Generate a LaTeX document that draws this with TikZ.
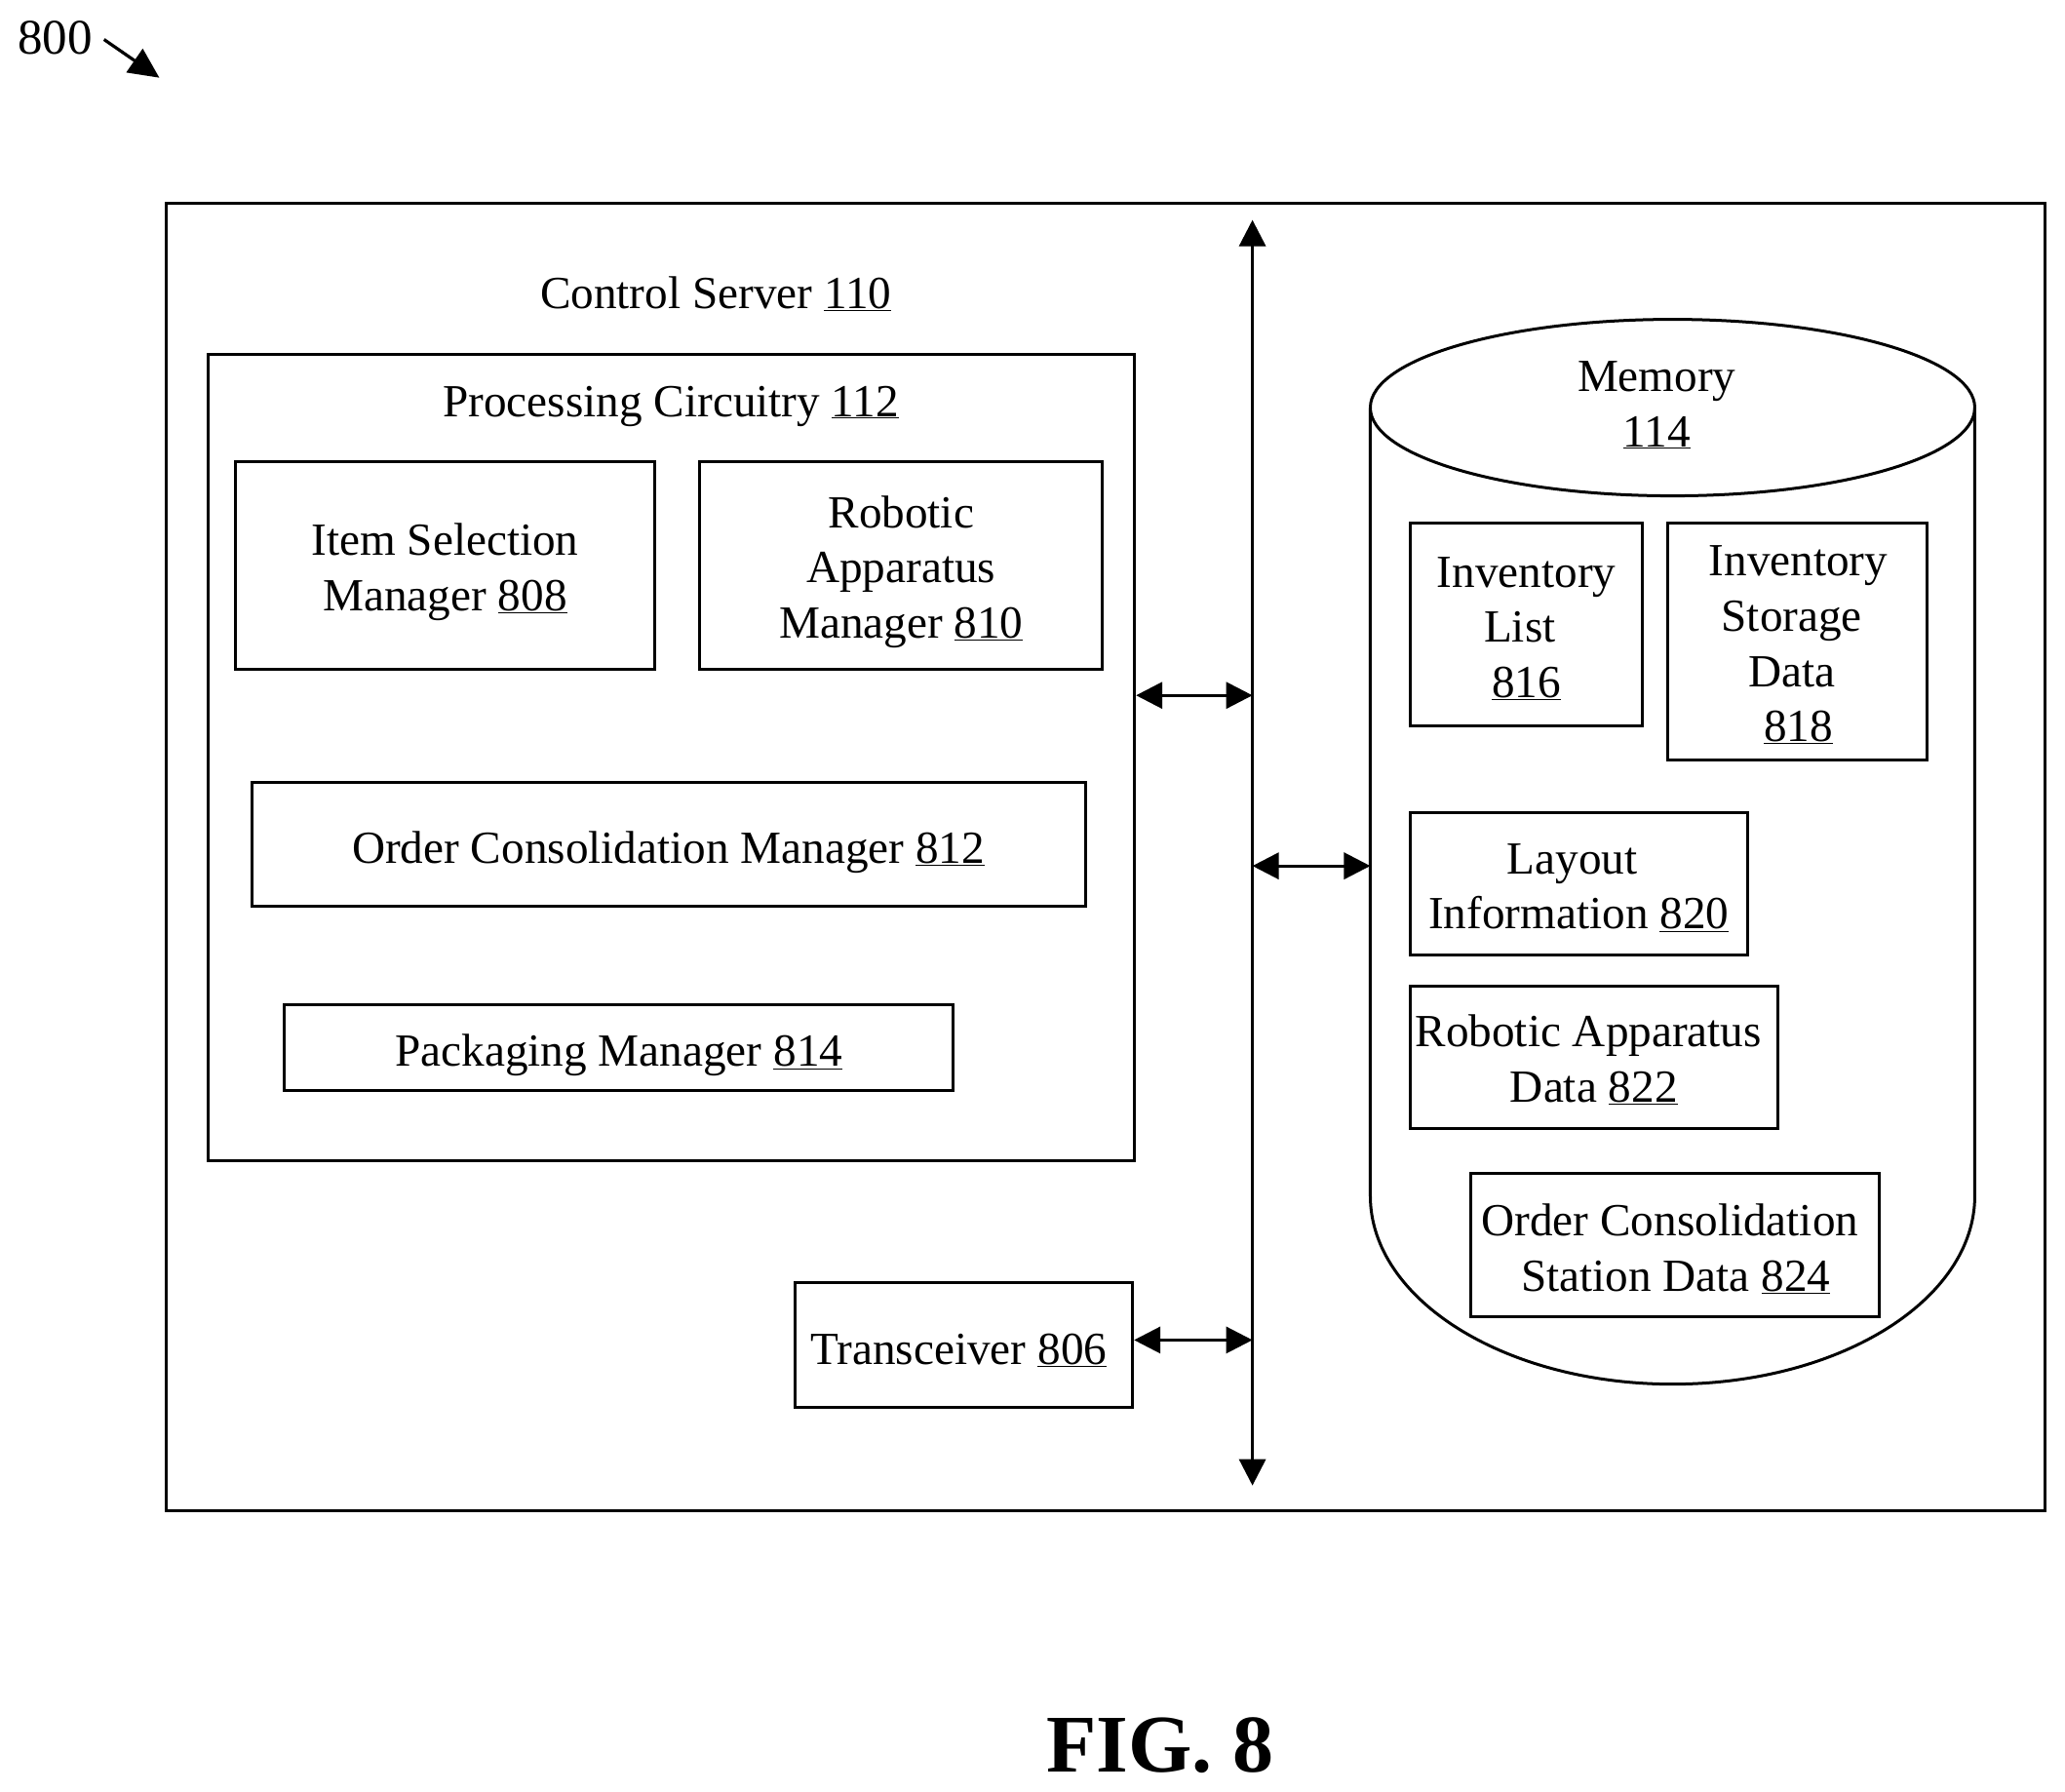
\documentclass[tikz,border=0pt]{standalone}
\usepackage{fontspec}
\setmainfont{Liberation Serif}
\usetikzlibrary{arrows.meta}
\newcommand{\ul}[1]{\underline{#1}}
\newcommand{\lft}[2]{\mbox{#2\hspace{#1pt}}}
\tikzset{
  x=1.3508pt,y=-1.3508pt,
  box/.style={draw,line width=3pt,inner sep=0pt},
  lab/.style={inner sep=0pt,align=center,font=\fontsize{47.2}{56.6}\selectfont},
  dbl/.style={line width=3.2pt,{Triangle[length=27pt,width=27pt]}-{Triangle[length=27pt,width=27pt]}},
}
% name, x0,y0,x1,y1, dx,dy, text
\newcommand{\bx}[8]{\node[box,minimum width=#4*1.3508pt-#2*1.3508pt,minimum height=#5*1.3508pt-#3*1.3508pt] (#1) at ({(#2+#4)/2},{(#3+#5)/2}) {};
\node[lab] (#1t) at ({(#2+#4)/2+#6},{(#3+#5)/2+#7}) {#8};}
\begin{document}
\begin{tikzpicture}
\useasboundingbox (0,0) rectangle (1568,1360.7);
\node[lab,font=\fontsize{51}{60}\selectfont] (fig800) at (42,29) {800};
\coordinate (a0) at (79,30);
\coordinate (a1) at (121,59);
\draw[line width=3.2pt,-{Triangle[length=31pt,width=29pt]}] (a0) -- (a1);
\bx{server}{126.5}{154}{1552.5}{1147}{0}{0}{}
\node[lab] (servert) at (543.5,223) {Control Server \ul{110}};
\bx{proc}{158}{269}{861.5}{881}{0}{0}{}
\node[lab] (proct) at (509.5,308.5) {Processing Circuitry \ul{112}};
\bx{m808}{179}{350.5}{497}{508}{0}{5}{Item Selection\\Manager \ul{808}}
\bx{m810}{531.5}{350.5}{837}{508}{0}{5}{Robotic\\Apparatus\\Manager \ul{810}}
\bx{m812}{191.5}{594}{824.5}{688}{-0.5}{6}{Order Consolidation Manager \ul{812}}
\bx{m814}{216}{763}{724}{828}{0}{6}{Packaging Manager \ul{814}}
\bx{m806}{604}{974}{860}{1069}{-4}{4}{Transceiver \ul{806}}
% memory cylinder
\draw[line width=3pt] (1040.5,310) -- (1040.5,908) arc[start angle=180,end angle=0,x radius=229.5pt*1.3508,y radius=-143pt*1.3508] -- (1499.5,310);
\draw[line width=3pt] (1270,309.5) ellipse[x radius=229.5pt*1.3508,y radius=67pt*1.3508];
\coordinate (memL) at (1040.5,657.5);
\node[lab] (memt) at (1258,307.5) {Memory\\\ul{114}};
\bx{d816}{1071}{397.5}{1247}{551}{0}{3}{Inventory\\\lft{13.5}{List}\\\ul{816}}
\bx{d818}{1266.5}{397.5}{1463.5}{577}{0.5}{2.5}{Inventory\\\lft{13.5}{Storage}\\\lft{13.5}{Data}\\\ul{818}}
\bx{d820}{1070.5}{617}{1327}{725}{0}{3}{\lft{13.5}{Layout}\\Information \ul{820}}
\bx{d822}{1070.5}{748.5}{1350}{857}{0}{2}{\lft{11}{Robotic Apparatus}\\Data \ul{822}}
\bx{d824}{1117}{891}{1427}{999.5}{0.5}{3}{\lft{12}{Order Consolidation}\\Station Data \ul{824}}
% bus
\coordinate (busT) at (951,167);
\coordinate (busB) at (951,1128);
\draw[dbl] (busT) -- (busB);
\coordinate (b1) at (951,528);
\coordinate (b2) at (951,657.5);
\coordinate (b3) at (951,1017.5);
\draw[dbl] (proc.east |- b1) -- (b1);
\draw[dbl] (b2) -- (memL);
\draw[dbl] (m806.east |- b3) -- (b3);
\node[inner sep=0pt,font=\fontsize{84}{90}\selectfont\bfseries] (fig) at (881,1325) {FIG. 8};
\end{tikzpicture}
\end{document}
